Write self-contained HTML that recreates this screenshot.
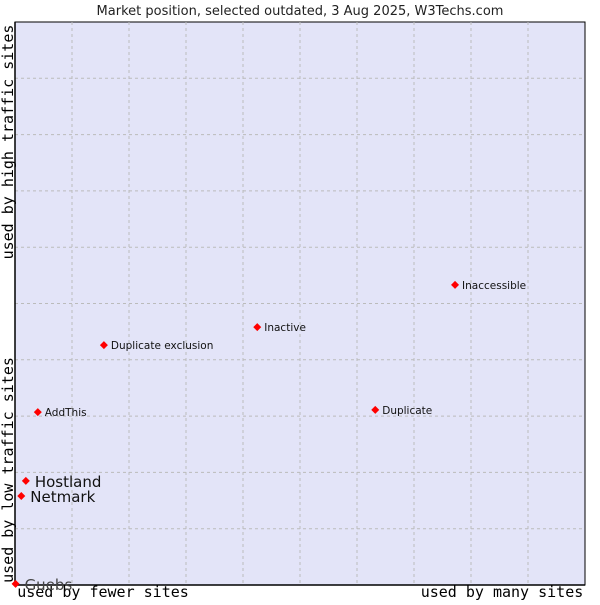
<!DOCTYPE html>
<html><head><meta charset="utf-8"><style>
body{margin:0;background:#fff;width:600px;height:600px;overflow:hidden}
</style></head><body>
<svg id="chart" width="600" height="600" xmlns="http://www.w3.org/2000/svg">
<text x="300" y="15" text-anchor="middle" font-family="DejaVu Sans, sans-serif" font-size="13" fill="#222">Market position, selected outdated, 3 Aug 2025, W3Techs.com</text>
<rect x="15" y="22" width="570" height="563" fill="#e3e4f8" stroke="#000" stroke-width="1"/>
<g id="grid"></g>
<line x1="15" y1="22" x2="15" y2="585" stroke="#000" stroke-width="1.5"/>
<line x1="15" y1="585" x2="585" y2="585" stroke="#000" stroke-width="1.5"/>
<text x="103" y="597" text-anchor="middle" font-family="DejaVu Sans Mono, monospace" font-size="15">used by fewer sites</text>
<text x="502" y="597" text-anchor="middle" font-family="DejaVu Sans Mono, monospace" font-size="15">used by many sites</text>
<text transform="translate(13,470) rotate(-90)" text-anchor="middle" font-family="DejaVu Sans Mono, monospace" font-size="15">used by low traffic sites</text>
<text transform="translate(13,142) rotate(-90)" text-anchor="middle" font-family="DejaVu Sans Mono, monospace" font-size="15">used by high traffic sites</text>
<g id="points"></g>
</svg>
<script>
const names = ["Guebs","Netmark","Hostland","AddThis","Duplicate exclusion","Inactive","Duplicate","Inaccessible"];
const xValues = [0.1,1.1,1.9,4.0,15.6,42.5,63.2,77.2];
const yValues = [0.2,15.8,18.5,30.7,42.6,45.8,31.1,53.3];
const bigLabel = [true,true,true,false,false,false,false,false];
const NS="http://www.w3.org/2000/svg";
const L=15,R=585,T=22,B=585;
const xs=v=>L+v/100*(R-L);
const ys=v=>B-v/100*(B-T);
const grid=document.getElementById('grid');
for(let i=1;i<10;i++){
  const gx=document.createElementNS(NS,'line');
  
  
  gx.setAttribute('x1',xs(i*10));gx.setAttribute('x2',xs(i*10));gx.setAttribute('y1',T);gx.setAttribute('y2',B);
  gx.setAttribute('stroke','#bbb');gx.setAttribute('stroke-dasharray','3,3');
  grid.appendChild(gx);
  const gy=document.createElementNS(NS,'line');
  
  
  gy.setAttribute('y1',ys(i*10));gy.setAttribute('y2',ys(i*10));gy.setAttribute('x1',L);gy.setAttribute('x2',R);
  gy.setAttribute('stroke','#bbb');gy.setAttribute('stroke-dasharray','3,3');
  grid.appendChild(gy);
}
const pg=document.getElementById('points');
names.forEach((n,i)=>{
  const x=xs(xValues[i]),y=ys(yValues[i]);
  const d=document.createElementNS(NS,'polygon');
  
  
  d.setAttribute('points',`${x},${y-4} ${x+4},${y} ${x},${y+4} ${x-4},${y}`);
  d.setAttribute('fill','#f00');
  pg.appendChild(d);
  const t=document.createElementNS(NS,'text');
  
  
  t.setAttribute('x',x+(bigLabel[i]?9:7));
  t.setAttribute('y',y+(bigLabel[i]?6:4));
  t.setAttribute('font-family','DejaVu Sans, sans-serif');
  t.setAttribute('font-size',bigLabel[i]?'15':'10.5');
  t.setAttribute('fill',i===0?'#444':'#111');
  t.textContent=n;
  pg.appendChild(t);
});
</script>
</body></html>
